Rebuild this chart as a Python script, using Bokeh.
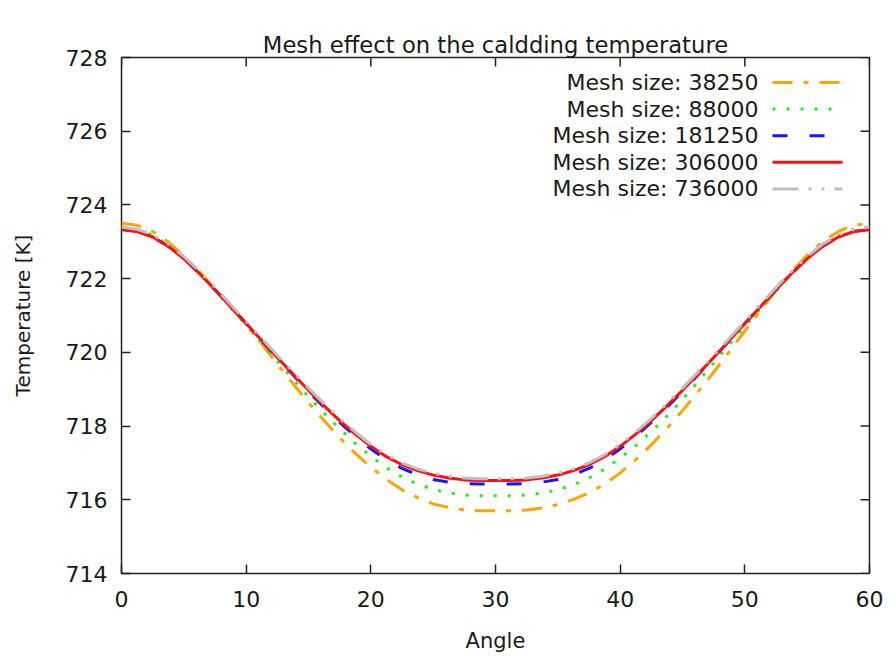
import math
from bokeh.plotting import figure
from bokeh.models import Range1d, FixedTicker, LinearAxis, Title
from bokeh.embed import file_html
from bokeh.resources import INLINE
from bokeh.core.properties import value

# ---------------- data ----------------
angle = [0, 1.25, 2.5, 3.75, 5, 6.25, 7.5, 8.75, 10, 11.25, 12.5, 13.75, 15,
         16.25, 17.5, 18.75, 20, 21.25, 22.5, 23.75, 25, 26.25, 27.5, 28.75, 30,
         31.25, 32.5, 33.75, 35, 36.25, 37.5, 38.75, 40, 41.25, 42.5, 43.75, 45,
         46.25, 47.5, 48.75, 50, 51.25, 52.5, 53.75, 55, 56.25, 57.5, 58.75, 60]

t_38250 = [723.50, 723.45, 723.28, 723.00, 722.62, 722.19, 721.72, 721.24, 720.75, 720.23, 719.68, 719.15, 718.64,
           718.15, 717.68, 717.26, 716.89, 716.55, 716.27, 716.06, 715.89, 715.79, 715.72, 715.70, 715.70,
           715.70, 715.72, 715.78, 715.87, 716.01, 716.19, 716.43, 716.73, 717.09, 717.49, 717.94, 718.42,
           718.93, 719.46, 720.02, 720.58, 721.13, 721.68, 722.19, 722.64, 723.01, 723.28, 723.45, 723.50]
t_88000 = [723.40, 723.34, 723.18, 722.91, 722.54, 722.13, 721.68, 721.21, 720.74, 720.25, 719.76, 719.28, 718.80,
           718.35, 717.93, 717.53, 717.18, 716.87, 716.62, 716.43, 716.28, 716.19, 716.13, 716.11, 716.11,
           716.11, 716.13, 716.18, 716.27, 716.41, 716.59, 716.83, 717.13, 717.47, 717.85, 718.27, 718.72,
           719.21, 719.71, 720.21, 720.70, 721.19, 721.67, 722.13, 722.54, 722.91, 723.18, 723.34, 723.40]
t_181250 = [723.33, 723.28, 723.13, 722.88, 722.54, 722.14, 721.70, 721.24, 720.78, 720.31, 719.85, 719.39, 718.94,
            718.51, 718.10, 717.72, 717.38, 717.09, 716.85, 716.68, 716.55, 716.48, 716.44, 716.43, 716.43,
            716.43, 716.44, 716.48, 716.55, 716.68, 716.85, 717.09, 717.38, 717.72, 718.10, 718.51, 718.94,
            719.39, 719.85, 720.31, 720.78, 721.24, 721.70, 722.14, 722.54, 722.88, 723.13, 723.28, 723.33]
t_306000 = [723.33, 723.28, 723.13, 722.88, 722.54, 722.14, 721.70, 721.24, 720.78, 720.32, 719.86, 719.41, 718.97,
            718.55, 718.15, 717.78, 717.45, 717.17, 716.95, 716.79, 716.67, 716.59, 716.54, 716.52, 716.52,
            716.52, 716.54, 716.59, 716.67, 716.79, 716.95, 717.17, 717.45, 717.78, 718.15, 718.55, 718.97,
            719.41, 719.86, 720.32, 720.78, 721.24, 721.70, 722.14, 722.54, 722.88, 723.13, 723.28, 723.33]
t_736000 = [723.40, 723.34, 723.19, 722.94, 722.60, 722.20, 721.76, 721.30, 720.84, 720.38, 719.92, 719.47, 719.03,
            718.61, 718.21, 717.84, 717.50, 717.22, 717.00, 716.84, 716.72, 716.64, 716.59, 716.57, 716.57,
            716.57, 716.59, 716.64, 716.72, 716.84, 717.00, 717.22, 717.50, 717.84, 718.21, 718.61, 719.03,
            719.47, 719.92, 720.38, 720.84, 721.30, 721.76, 722.20, 722.60, 722.94, 723.19, 723.34, 723.40]

title_text = "Mesh effect on the caldding temperature"
labels = ["Mesh size: 38250", "Mesh size: 88000", "Mesh size: 181250",
          "Mesh size: 306000", "Mesh size: 736000"]
x_ticks = [0, 10, 20, 30, 40, 50, 60]
y_ticks = [714, 716, 718, 720, 722, 724, 726, 728]

# ---------------- styles ----------------
series = [t_38250, t_88000, t_181250, t_306000, t_736000]
colors = ["#FFA500", "#22EE22", "#1515FF", "#FF1010", "#C0C0C0"]
dashes = ["20 11 5 11", "3 11", "15 22", "solid", "26 10 3 10 3 10"]
widths = [3, 3, 3, 3, 3]

FONT = "DejaVu Sans"
TXT = "#1a1a1a"
X0, X1, Y0, Y1 = 0, 60, 714, 728
L, R, T, B = 121, 21, 57, 84
W, H = 890, 657

p = figure(width=W, height=H, output_backend="svg", toolbar_location=None, title=None,
           x_range=Range1d(X0, X1), y_range=Range1d(Y0, Y1),
           min_border_left=L, min_border_right=R, min_border_top=T, min_border_bottom=B,
           x_axis_label="Angle", y_axis_label="Temperature [K]")

p.grid.visible = False
p.outline_line_color = "#222222"
p.outline_line_width = 1.5
p.outline_line_alpha = 1.0
p.background_fill_color = "white"
p.border_fill_color = "white"

xa = p.below[0]
ya = p.left[0]
for ax, ticks in ((xa, x_ticks), (ya, y_ticks)):
    ax.ticker = FixedTicker(ticks=ticks)
    ax.axis_line_color = None
    ax.major_tick_in = 9
    ax.major_tick_out = 0
    ax.major_tick_line_color = "#222222"
    ax.major_tick_line_width = 1.5
    ax.minor_tick_line_color = None
    ax.major_label_text_font = FONT
    ax.major_label_text_color = TXT
    ax.major_label_text_font_size = "22px"
    ax.axis_label_text_font = FONT
    ax.axis_label_text_font_style = "normal"
    ax.axis_label_text_color = TXT

xa.major_label_standoff = 17
xa.axis_label_text_font_size = "21px"
xa.axis_label_standoff = 19
ya.major_label_standoff = 14
ya.axis_label_text_font_size = "20px"
ya.axis_label_standoff = 28

# blank spacer (no ticks, no labels) between the frame and the title
spacer = LinearAxis(ticker=FixedTicker(ticks=[]), axis_line_color=None,
                    major_tick_in=0, major_tick_out=23, minor_tick_in=0, minor_tick_out=0,
                    major_label_standoff=0, major_tick_line_color=None, minor_tick_line_color=None)
p.add_layout(spacer, "above")
p.add_layout(Title(text=title_text, align="center", standoff=0, text_font=FONT,
                   text_font_size="22.7px", text_font_style="normal", text_color=TXT), "above")

# mirrored inward ticks on the top and right borders (gnuplot "mirror")
p.ray(x=x_ticks, y=[Y1] * len(x_ticks), length=9, length_units="screen",
      angle=-math.pi / 2, line_color="#222222", line_width=1.5)
p.ray(x=[X1] * len(y_ticks), y=y_ticks, length=9, length_units="screen",
      angle=math.pi, line_color="#222222", line_width=1.5)

for ys, c, d, w in zip(series, colors, dashes, widths):
    p.line(angle, ys, line_color=c, line_dash=d, line_width=w)

# ---------------- key (gnuplot style: text right-aligned, sample on right) ----------------
fw = W - L - R
fh = H - T - B
def px_x(px):
    return X0 + (px - L) / fw * (X1 - X0)
def px_y(py):
    return Y1 - (py - T) / fh * (Y1 - Y0)

for i, (lab, c, d, w) in enumerate(zip(labels, colors, dashes, widths)):
    yy = px_y(82 + i * 26.6)
    p.text(x=[px_x(758)], y=[yy], text=[lab], text_align="right", text_baseline="middle",
           text_font=value(FONT), text_font_size="22px", text_color=TXT)
    p.line([px_x(772), px_x(842)], [yy, yy], line_color=c, line_dash=d, line_width=w)

open("out.html", "w").write(file_html(p, INLINE))
